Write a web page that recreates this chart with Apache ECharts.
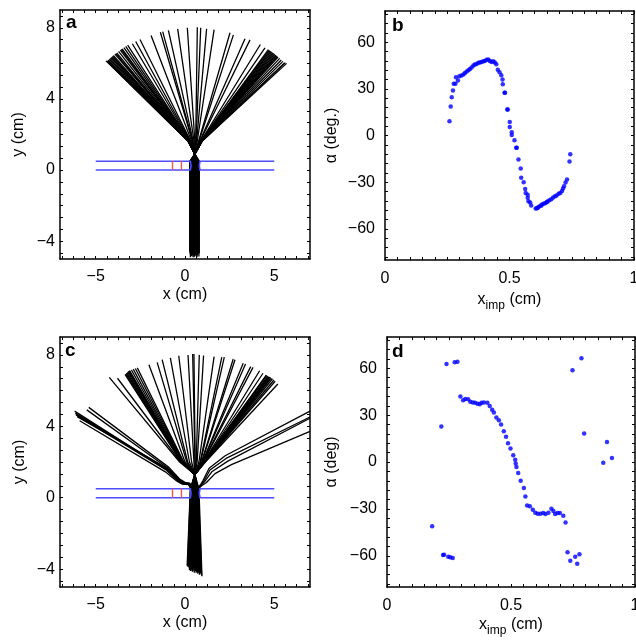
<!DOCTYPE html>
<html><head><meta charset="utf-8">
<script src="https://cdn.jsdelivr.net/npm/echarts@6/dist/echarts.min.js"></script>
<style>html,body{margin:0;padding:0;background:#fff}#c{width:636px;height:641px}</style>
</head><body><div id="c"></div><script>
// ---------- Panel b: impact parameter vs deflection angle ----------
const bX = [0.259,0.264,0.268,0.273,0.276,0.283,0.285,0.293,0.299,0.307,0.315,0.321,0.328,0.335,0.341,0.348,0.355,0.361,0.368,0.375,0.381,0.388,0.395,0.401,0.408,0.415,0.421,0.428,0.435,0.441,0.447,0.453,0.460,0.467,0.472,0.473,0.480,0.482,0.491,0.493,0.501,0.501,0.509,0.509,0.520,0.527,0.529,0.536,0.545,0.547,0.557,0.563,0.565,0.573,0.573,0.576,0.583,0.587,0.605,0.611,0.613,0.617,0.624,0.628,0.632,0.639,0.645,0.650,0.653,0.660,0.668,0.675,0.683,0.689,0.697,0.704,0.711,0.715,0.719,0.725,0.731,0.741,0.744];
const bAlpha = [9.2,18.6,24.6,28.9,33.2,33.2,37.5,35.3,38.1,38.5,39.2,40.2,41.1,42.0,42.8,43.7,45.0,45.6,46.0,46.7,46.9,47.3,47.7,47.9,48.6,48.8,47.9,47.3,47.7,46.9,45.8,42.2,40.7,38.7,36.0,33.0,27.4,27.4,16.7,16.7,8.6,5.4,2.1,0.4,-3.0,-7.9,-7.9,-15.4,-21.2,-27.2,-30.0,-34.3,-37.0,-38.0,-40.0,-42.2,-43.0,-45.0,-46.9,-46.7,-46.5,-45.9,-45.2,-45.0,-44.1,-43.7,-43.3,-42.8,-42.4,-41.6,-40.9,-39.9,-39.0,-38.6,-37.5,-36.9,-35.6,-34.1,-32.6,-30.2,-28.3,-16.7,-12.0];

// ---------- Panel d ----------
const dX = [0.182,0.219,0.226,0.230,0.240,0.247,0.255,0.265,0.273,0.284,0.296,0.307,0.316,0.327,0.336,0.346,0.355,0.365,0.374,0.381,0.391,0.405,0.414,0.424,0.431,0.441,0.451,0.460,0.471,0.480,0.488,0.498,0.509,0.517,0.519,0.522,0.529,0.539,0.552,0.558,0.565,0.576,0.588,0.598,0.608,0.619,0.630,0.639,0.651,0.663,0.671,0.678,0.688,0.697,0.711,0.720,0.728,0.739,0.748,0.759,0.767,0.776,0.784,0.795,0.872,0.887,0.907];
const dAlpha = [-41.1,22.7,-59.5,-59.3,62.8,-60.6,-61.0,-61.4,63.8,64.2,42.0,39.6,40.3,40.1,38.5,38.1,37.9,37.3,37.0,37.9,38.1,37.9,35.8,33.4,31.7,28.5,26.8,24.0,19.7,16.1,12.0,8.6,4.3,1.5,-1.0,-3.2,-7.1,-12.0,-16.7,-22.0,-27.8,-28.3,-30.6,-32.5,-33.1,-33.1,-32.7,-33.3,-32.5,-29.9,-31.4,-33.3,-32.7,-32.7,-34.4,-38.7,-57.8,-63.2,58.7,-60.6,-65.1,-59.1,66.4,18.2,-0.4,12.8,2.6];

// ---------- Panel a: trajectories (bottom -> slit -> waist -> bend -> end) ----------
const aWaist = [0.55, 0.9];
const aBendY = 1.65;
const aEndX = [-4.42,-4.38,-4.33,-4.29,-4.24,-4.20,-4.15,-4.11,-4.06,-4.01,-3.92,-3.87,-3.82,-3.72,-3.62,-3.57,-3.52,-3.42,-3.32,-3.21,
  -2.95,-2.76,-2.52,-1.90,-1.38,-1.25,-0.93,-0.41,0.13,0.69,0.88,1.21,1.63,2.52,2.71,3.36,3.64,4.22,4.48,
  4.67,4.72,4.77,4.82,4.87,4.92,4.97,5.02,5.07,5.11,5.16,5.21,5.30,5.39,5.48,5.57,5.62,5.69];
const aEndY = [6.14,6.12,6.16,6.19,6.24,6.28,6.32,6.36,6.40,6.44,6.52,6.55,6.59,6.67,6.74,6.78,6.82,6.89,6.96,7.02,
  7.10,7.23,7.34,7.57,7.75,7.78,7.85,7.94,8.00,8.03,8.00,7.94,7.90,7.72,7.60,7.38,7.32,7.06,6.87,
  6.77,6.74,6.70,6.67,6.63,6.59,6.56,6.52,6.48,6.44,6.40,6.36,6.28,6.19,6.11,6.02,6.04,6.00];
const aBendX = [0.15,0.15,0.16,0.16,0.17,0.17,0.18,0.18,0.19,0.19,0.20,0.20,0.21,0.21,0.22,0.22,0.23,0.23,0.24,0.25,
  0.27,0.29,0.31,0.36,0.41,0.42,0.45,0.50,0.55,0.60,0.62,0.65,0.69,0.77,0.79,0.84,0.86,0.90,0.91,
  0.92,0.92,0.93,0.93,0.93,0.94,0.94,0.94,0.95,0.95,0.95,0.96,0.96,0.96,0.97,0.97,0.98,0.98];
const aSlitX = [0.40,0.41,0.42,0.43,0.44,0.45,0.39,0.38,0.37,0.36,0.35,0.34,0.46,0.33,0.405,0.415,0.425,0.435,0.385,0.375,
  0.32,0.31,0.30,0.29,0.28,0.47,0.27,0.48,0.49,0.50,0.51,0.52,0.53,0.54,0.55,0.56,0.57,0.58,0.59,
  0.60,0.61,0.62,0.63,0.64,0.65,0.66,0.67,0.68,0.69,0.70,0.71,0.72,0.73,0.74,0.76,0.78,0.80];
const aBottomY = [-4.6,-4.7,-4.55,-4.8,-4.65,-4.9,-4.6,-4.75,-4.55,-4.85,-4.6,-4.7,-4.5,-4.8,-4.62,-4.58,-4.72,-4.66,-4.52,-4.78,
  -4.65,-4.55,-4.9,-4.6,-4.7,-4.8,-4.55,-4.65,-4.75,-4.6,-4.9,-4.55,-4.7,-4.85,-4.6,-4.5,-4.75,-4.65,-4.8,
  -4.6,-4.7,-4.55,-4.85,-4.6,-4.75,-4.65,-4.9,-4.55,-4.7,-4.6,-4.8,-4.65,-4.58,-4.72,-4.62,-4.86,-4.68];

// ---------- Panel c: fan trajectories ----------
const cWaist = [0.55, 1.3];
const cBendY = 2.0;
const cEndX = [-4.24,-3.78,
  -3.36,-3.32,-3.28,-3.25,-3.21,-3.18,-3.14,-3.10,-3.00,-2.90,-2.78,-2.67,
  -2.02,-1.56,-1.28,-0.82,-0.35,0.17,0.43,0.50,0.80,1.04,1.63,2.06,2.20,2.70,2.80,3.26,3.39,3.68,3.81,4.18,4.37,
  4.55,4.58,4.63,4.68,4.72,4.75,4.80,4.83,4.90,4.98,5.05,5.20];
const cEndY = [6.74,6.69,
  6.90,6.93,6.97,7.00,7.04,7.08,7.10,7.12,7.15,7.20,7.24,7.27,
  7.45,7.58,7.73,7.83,7.95,7.99,8.05,8.05,8.00,7.96,7.90,7.87,7.87,7.77,7.73,7.53,7.49,7.34,7.30,7.11,6.97,
  6.87,6.85,6.81,6.78,6.76,6.75,6.72,6.70,6.66,6.59,6.52,6.37];
const cBendX = [-0.30,-0.25,
  -0.22,-0.21,-0.20,-0.19,-0.18,-0.17,-0.16,-0.15,-0.13,-0.11,-0.09,-0.07,
  0.00,0.10,0.15,0.25,0.37,0.50,0.56,0.57,0.63,0.68,0.78,0.85,0.87,0.93,0.94,0.98,0.99,1.01,1.02,1.04,1.05,
  1.05,1.06,1.06,1.07,1.07,1.08,1.08,1.09,1.10,1.11,1.12,1.14];
const cSlitX = [0.40,0.42,
  0.36,0.37,0.38,0.39,0.41,0.43,0.44,0.45,0.365,0.375,0.385,0.395,
  0.33,0.34,0.35,0.46,0.47,0.31,0.30,0.48,0.49,0.50,0.51,0.52,0.53,0.54,0.55,0.56,0.57,0.58,0.59,0.60,0.61,
  0.62,0.63,0.64,0.65,0.66,0.67,0.68,0.69,0.70,0.72,0.75,0.78];
const cBottomX = [0.30,0.35,
  0.22,0.25,0.27,0.28,0.33,0.38,0.40,0.42,0.24,0.26,0.29,0.31,
  0.18,0.20,0.24,0.45,0.47,0.14,0.12,0.50,0.52,0.55,0.56,0.58,0.60,0.62,0.64,0.66,0.68,0.70,0.72,0.74,0.76,
  0.78,0.79,0.80,0.82,0.83,0.85,0.86,0.88,0.89,0.90,0.93,0.95];
const cBottomY = [-4.0,-3.9,
  -3.85,-4.05,-3.95,-3.8,-4.1,-3.9,-4.0,-4.15,-3.88,-3.98,-4.08,-3.92,
  -3.8,-3.9,-3.75,-4.1,-3.95,-3.85,-3.8,-4.0,-4.2,-3.9,-4.05,-4.1,-3.95,-4.2,-4.0,-4.15,-3.9,-4.25,-4.05,-4.1,-3.95,
  -4.2,-4.05,-4.1,-4.3,-3.95,-4.0,-4.25,-4.15,-4.1,-4.2,-4.35,-4.4];
// strongly deflected, curved trajectories in panel c
const cLeftPaths = [
  [[0.25,-3.9],[0.35,0.5],[0.2,0.76],[-0.1,0.78],[-0.4,0.95],[-1.0,1.55],[-6.18,4.85]],
  [[0.28,-4.0],[0.37,0.5],[0.22,0.77],[-0.08,0.8],[-0.38,0.98],[-1.0,1.6],[-6.14,4.74]],
  [[0.26,-3.95],[0.36,0.5],[0.21,0.77],[-0.09,0.79],[-0.39,0.96],[-1.02,1.57],[-6.12,4.70]],
  [[0.20,-3.85],[0.33,0.5],[0.18,0.78],[-0.12,0.8],[-0.42,0.97],[-1.05,1.55],[-6.10,4.64]],
  [[0.32,-4.1],[0.38,0.5],[0.24,0.78],[-0.05,0.82],[-0.35,1.0],[-0.95,1.62],[-6.04,4.54]],
  [[0.36,-4.0],[0.40,0.5],[0.28,0.8],[0.0,0.86],[-0.3,1.05],[-0.9,1.7],[-5.39,5.06]],
  [[0.30,-3.95],[0.39,0.5],[0.26,0.8],[-0.02,0.84],[-0.32,1.03],[-0.95,1.65],[-5.50,4.92]],
  [[0.22,-3.8],[0.34,0.5],[0.2,0.74],[-0.15,0.76],[-0.45,0.92],[-1.1,1.45],[-5.90,4.31]]
];
const cRightPaths = [
  [[0.70,-4.1],[0.68,0.5],[0.85,0.7],[1.0,0.95],[1.35,1.65],[2.25,2.35],[7,4.85]],
  [[0.72,-4.2],[0.70,0.5],[0.88,0.7],[1.05,0.92],[1.4,1.55],[2.3,2.2],[7,4.52]],
  [[0.75,-4.0],[0.72,0.5],[0.9,0.7],[1.1,0.9],[1.5,1.45],[2.4,2.05],[7,4.45]],
  [[0.80,-4.3],[0.74,0.5],[0.95,0.68],[1.2,0.85],[1.68,1.35],[2.6,1.85],[7,3.72]]
];

// ---------- slit geometry ----------
const slitLeft = [[-5,0.5],[0.3,0.5],[0.34,0.25],[0.3,0],[-5,0]];
const slitRight = [[5,0.5],[0.84,0.5],[0.8,0.25],[0.84,0],[5,0]];
const redX = [-0.7,-0.2];

// ---------- axes ----------
const posTicks = [-5,0,5], posY = [-4,0,4,8];
const impTicks = [0,0.5,1], angTicks = [-60,-30,0,30,60];

const FONT = "'Liberation Sans', Arial, sans-serif";
const fmt = v => String(v).replace('-', '\u2212');
function tickVals(min, max, anchor, step) {
  const out = [];
  const k0 = Math.ceil((min - anchor) / step - 1e-9), k1 = Math.floor((max - anchor) / step + 1e-9);
  for (let k = k0; k <= k1; k++) out.push(+(anchor + k * step).toFixed(6));
  return out;
}
function axes(dim, gi, min, max, majors, minorStep, name, nameGap, labelMargin, rich) {
  const all = tickVals(min, max, majors[0], minorStep);
  const base = {
    type: 'value', gridIndex: gi, min, max, splitLine: {show: false},
    axisLine: {show: true, onZero: false, lineStyle: {color: '#000', width: 1.5}},
    axisTick: {show: true, inside: true, length: 3, customValues: all, lineStyle: {color: '#000', width: 1}}
  };
  const prim = Object.assign({}, base, {
    position: dim === 'x' ? 'bottom' : 'left',
    axisLabel: {show: true, customValues: majors, formatter: fmt, color: '#000', fontSize: 16, fontFamily: FONT, margin: labelMargin},
    name, nameLocation: 'middle', nameGap,
    nameTextStyle: {color: '#000', fontSize: 16, fontFamily: FONT, rich: rich || {}}
  });
  const sec = Object.assign({}, base, {
    position: dim === 'x' ? 'top' : 'right', axisLabel: {show: false}
  });
  return [prim, sec];
}
const subRich = {
  m: {fontSize: 16, fontFamily: FONT, color: '#000'},
  s: {fontSize: 12, fontFamily: FONT, color: '#000', padding: [12, 0, 0, 0]}
};
const impName = '{m|x}{s|imp}{m| (cm)}';

const xAxis = [].concat(
  axes('x', 0, -7, 7, posTicks, 0.625, 'x (cm)', 28, 10),
  axes('x', 1, 0, 1, impTicks, 0.05, impName, 28, 11, subRich),
  axes('x', 2, -7, 7, posTicks, 0.625, 'x (cm)', 28, 10),
  axes('x', 3, 0, 1, impTicks, 0.05, impName, 26, 11, subRich)
);
const yAxis = [].concat(
  axes('y', 0, -5, 9, posY, 4/6, 'y (cm)', 33, 5),
  axes('y', 1, -80, 80, angTicks, 6, '\u03b1 (deg.)', 45, 10),
  axes('y', 2, -5, 9, posY, 4/6, 'y (cm)', 32, 5),
  axes('y', 3, -80, 80, angTicks, 6, '\u03b1 (deg)', 47, 10)
);

// ---------- build series ----------
function fanPaths(endX, endY, bendX, bendY, slitX, bottomX, bottomY, waist) {
  return endX.map((ex, i) => ({coords: [[bottomX[i], bottomY[i]], [slitX[i], 0.5], waist, [bendX[i], bendY], [ex, endY[i]]]}));
}
const aPaths = fanPaths(aEndX, aEndY, aBendX, aBendY, aSlitX, aSlitX, aBottomY, aWaist);
const cPaths = fanPaths(cEndX, cEndY, cBendX, cBendY, cSlitX, cBottomX, cBottomY, cWaist)
  .concat(cLeftPaths.map(p => ({coords: p})), cRightPaths.map(p => ({coords: p})));

function trajSeries(gi, paths) {
  return {type: 'lines', coordinateSystem: 'cartesian2d', polyline: true, xAxisIndex: 2*gi, yAxisIndex: 2*gi,
    silent: true, z: 2, lineStyle: {color: '#000', width: 1.3, opacity: 1, join: 'round'}, data: paths};
}
function slitSeries(gi) {
  return [
    {type: 'lines', coordinateSystem: 'cartesian2d', polyline: true, xAxisIndex: 2*gi, yAxisIndex: 2*gi, silent: true, z: 3,
      lineStyle: {color: '#4d4dff', width: 1.6, opacity: 1}, data: [{coords: slitLeft}, {coords: slitRight}]},
    {type: 'lines', coordinateSystem: 'cartesian2d', polyline: true, xAxisIndex: 2*gi, yAxisIndex: 2*gi, silent: true, z: 3,
      lineStyle: {color: '#ff5050', width: 1.4, opacity: 1}, data: redX.map(x => ({coords: [[x, 0], [x, 0.5]]}))}
  ];
}
function dots(gi, xs, ys) {
  return {type: 'scatter', xAxisIndex: 2*gi, yAxisIndex: 2*gi, symbol: 'circle', symbolSize: 4.5,
    itemStyle: {color: '#0000ff'}, silent: true, data: xs.map((x, i) => [x, ys[i]])};
}

const letter = (t, left, top) => ({text: t, left, top, padding: 0,
  textStyle: {fontSize: 19, fontWeight: 'bold', fontFamily: FONT, color: '#000'}});

const chart = echarts.init(document.getElementById('c'), null, {renderer: 'canvas'});
chart.setOption({
  animation: false,
  backgroundColor: '#fff',
  title: [letter('a', 66, 13), letter('b', 392, 16), letter('c', 65, 341), letter('d', 392, 342)],
  grid: [
    {left: 60, top: 10, width: 250, height: 249, outerBoundsMode: 'none', containLabel: false},
    {left: 385, top: 11, width: 249, height: 249, outerBoundsMode: 'none', containLabel: false},
    {left: 60, top: 337, width: 250, height: 250, outerBoundsMode: 'none', containLabel: false},
    {left: 387, top: 337, width: 248, height: 250, outerBoundsMode: 'none', containLabel: false}
  ],
  xAxis, yAxis,
  series: [
    trajSeries(0, aPaths), ...slitSeries(0),
    dots(1, bX, bAlpha),
    trajSeries(2, cPaths), ...slitSeries(2),
    dots(3, dX, dAlpha)
  ]
});
</script></body></html>
